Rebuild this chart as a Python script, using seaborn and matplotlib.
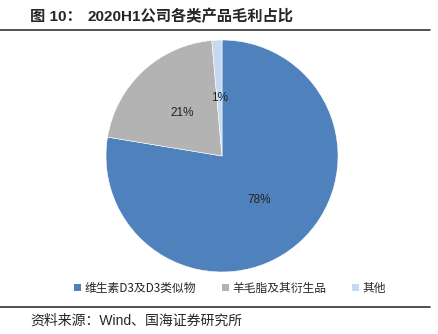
import matplotlib
matplotlib.use("Agg")
import matplotlib.pyplot as plt
import seaborn as sns
from matplotlib.patches import Patch
from matplotlib.lines import Line2D

categories = ["维生素D3及D3类似物", "羊毛脂及其衍生品", "其他"]
values = [77.6, 21.0, 1.4]
colors = ["#4F81BD", "#B3B3B3", "#C6D9F1"]
title_prefix = "图 10："
title_main = "2020H1公司各类产品毛利占比"
source = "资料来源：Wind、国海证券研究所"

sns.set_style("white")
plt.rcParams["font.family"] = ["Noto Sans CJK SC", "DejaVu Sans"]
mixed = ["Liberation Sans", "Noto Sans CJK SC", "DejaVu Sans"]

W, H = 439, 334
fig = plt.figure(figsize=(W / 100, H / 100), dpi=100)

cx, cy, r = 222, 156, 116
ax = fig.add_axes([(cx - r) / W, (H - cy - r) / H, 2 * r / W, 2 * r / H])
wedges, texts, autotexts = ax.pie(
    values, colors=colors, startangle=90, counterclock=False,
    autopct="%.0f%%", pctdistance=0.5,
    wedgeprops=dict(edgecolor="white", linewidth=0.4),
    textprops=dict(fontsize=8.5, color="#222222", family=["Liberation Sans"]),
)
ax.set_xlim(-1, 1)
ax.set_ylim(-1, 1)
ax.set_aspect("equal")
ax.axis("off")

fig.text(30 / W, 1 - 17 / H, title_prefix, fontsize=11, fontweight="bold", va="center", ha="left", family=mixed)
fig.text(88 / W, 1 - 17 / H, title_main, fontsize=11, fontweight="bold", va="center", ha="left", family=mixed)
fig.add_artist(Line2D([0, 430 / W], [1 - 30 / H, 1 - 30 / H], color="#333333", linewidth=1.2))
fig.add_artist(Line2D([0, 430 / W], [1 - 307 / H, 1 - 307 / H], color="#333333", linewidth=1.2))

handles = [Patch(facecolor=c, edgecolor="none") for c in colors]
fig.legend(handles, categories, loc="center", bbox_to_anchor=(230 / W, 1 - 288 / H),
           ncol=3, frameon=False, fontsize=8.5, handlelength=0.6, handleheight=0.6,
           handletextpad=0.3, columnspacing=2.2)

fig.text(30 / W, 1 - 321 / H, source, fontsize=10, va="center", ha="left", family=mixed)

fig.savefig("out.png", dpi=100)
